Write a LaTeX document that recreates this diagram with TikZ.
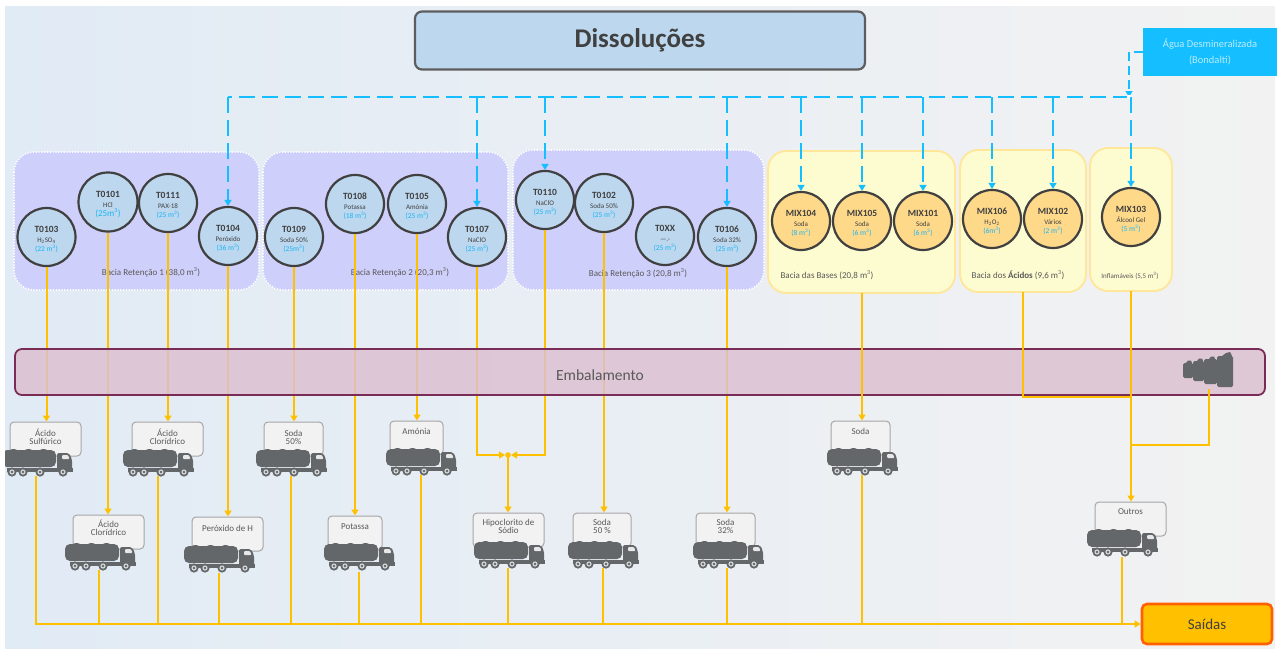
\documentclass[tikz,border=0pt]{standalone}
\usepackage{fontspec}
\setmainfont{Carlito}
\usetikzlibrary{arrows.meta,shadings}
\definecolor{bgL}{HTML}{E1EBF5}
\definecolor{bgR}{HTML}{F2F2F2}
\definecolor{tankblue}{HTML}{BDD7EE}
\definecolor{mixor}{HTML}{FFD98A}
\definecolor{ringc}{HTML}{404040}
\definecolor{capc}{HTML}{19B5F5}
\definecolor{lilac}{HTML}{CFCFFB}
\definecolor{creamf}{HTML}{FDFBD0}
\definecolor{creamb}{HTML}{FFE699}
\definecolor{orangel}{HTML}{FFC000}
\definecolor{bluel}{HTML}{15BEFF}
\definecolor{truckc}{HTML}{63676A}
\definecolor{bandf}{HTML}{DCBFD0}
\definecolor{bandb}{HTML}{7B2C56}
\definecolor{boxb}{HTML}{A6A6A6}
\definecolor{txt}{HTML}{595959}
\tikzset{
 x=1pt,y=-1pt,
 tank/.style={circle,draw=ringc,line width=2.2pt,minimum size=58pt,inner sep=0pt,fill=tankblue,align=center,font=\fontsize{7}{9.6}\selectfont,text=ringc},
 mixtank/.style={tank,fill=mixor},
 basinL/.style={draw=white,line width=1.6pt,dash pattern=on 1.2pt off 1.6pt,fill=lilac,rounded corners=20pt},
 basinC/.style={draw=creamb,line width=1.8pt,fill=creamf,rounded corners=18pt},
 basintxt/.style={font=\fontsize{9}{10}\selectfont,text=txt,inner sep=0pt},
 orangeln/.style={draw=orangel,line width=2pt},
 orangear/.style={orangeln,-{Triangle[length=6pt,width=7pt]}},
 blueln/.style={draw=bluel,line width=2.4pt,dash pattern=on 16pt off 7pt},
 bluear/.style={blueln,-{Triangle[length=6pt,width=7pt]}},
 trkbox/.style={draw=boxb,line width=1pt,fill=bgR,rounded corners=4pt,inner sep=0pt},
 trktxt/.style={font=\fontsize{9}{8}\selectfont,text=txt,align=center,inner sep=0pt},
 trk/.pic={
  \fill[truckc,rounded corners=5pt] (0,0) rectangle (54,17);
  \fill[truckc] (7,0.5) .. controls (10,-1.5) and (13,-1.5) .. (16,0.5) -- cycle;
  \fill[truckc] (22,0.5) .. controls (25,-1.5) and (28,-1.5) .. (31,0.5) -- cycle;
  \fill[truckc] (37,0.5) .. controls (40,-1.5) and (43,-1.5) .. (46,0.5) -- cycle;
  \fill[truckc,rounded corners=2pt] (55,3) -- (67,3) -- (70,9) -- (70,20) -- (55,20) -- cycle;
  \fill[white!85!truckc,rounded corners=1pt] (60,5) -- (66,5) -- (67.5,9) -- (60,9) -- cycle;
  \fill[truckc] (5,18) rectangle (71,21.5);
  \foreach \wx in {10,21,38,61}{
    \fill[truckc] (\wx,22) circle[radius=4.6];
    \fill[white!75!truckc] (\wx,22) circle[radius=2.6];
    \fill[truckc] (\wx,22) circle[radius=1.3];
  }
 },
}
% name, truck L, truck T, box xmin, box xmax, box ytop, text y, text
\newcommand{\trkunit}[8]{%
  \node[trkbox,minimum width={(#5-#4)*1pt},minimum height=34pt] (#1) at ({(#4+#5)/2},#6+17) {};
  \node[trktxt] (#1txt) at ({(#4+#5)/2},#7) {#8};
  \pic at (#2,#3) {trk};
}
\newcommand{\tanknd}[7]{\node[#1] (#2) at (#3,#4) {\rule{0pt}{11.5pt}{\bfseries\fontsize{9.5}{9.6}\selectfont #5}\\#6\\{\fontsize{7.5}{9.6}\selectfont\color{capc}#7}};}
\newcommand{\mcub}{m\textsuperscript{3}}
\begin{document}
\begin{tikzpicture}
\useasboundingbox (0,0) rectangle (1277,648);
\fill[white] (0,0) rectangle (1277,648);
\shade[left color=bgL,right color=bgR] (5,6) rectangle (1275,648);

% basins
\draw[basinL] (14,152) rectangle (259,290);
\draw[basinL] (263,152) rectangle (508,290);
\draw[basinL] (513,150) rectangle (764,290);
\draw[basinC] (768,151) rectangle (955,293);
\draw[basinC] (960,150) rectangle (1086,292);
\draw[basinC] (1090,148) rectangle (1172,291);
\node[basintxt] (b1t) at (151,272) {Bacia Retenção 1 (38,0 \mcub)};
\node[basintxt] (b2t) at (400,272) {Bacia Retenção 2 (20,3 \mcub)};
\node[basintxt] (b3t) at (638,273) {Bacia Retenção 3 (20,8 \mcub)};
\node[basintxt] (b4t) at (827,275) {Bacia das Bases (20,8 \mcub)};
\node[basintxt] (b5t) at (1018,275) {Bacia dos \textbf{Ácidos} (9,6 \mcub)};
\node[basintxt,font=\fontsize{7}{8}\selectfont] (b6t) at (1130,276) {Inflamáveis (5,5 \mcub)};

% tanks
\tanknd{tank}{t103}{46.5}{237}{T0103}{H\textsubscript{2}SO\textsubscript{4}}{(22 \mcub)}
\tanknd{tank,minimum size=59pt}{t101}{108}{202}{T0101}{HCl}{\fontsize{9}{9.6}\selectfont(25m\textsuperscript{3})}
\tanknd{tank}{t111}{168}{203}{T0111}{PAX-18}{(25 \mcub)}
\tanknd{tank}{t104}{228}{236}{T0104}{Peróxido}{(36 \mcub)}
\tanknd{tank}{t109}{294}{237}{T0109}{Soda 50\%}{(25\mcub)}
\tanknd{tank}{t108}{355}{204}{T0108}{Potassa}{(18 \mcub)}
\tanknd{tank}{t105}{417}{204}{T0105}{Amónia}{(25 \mcub)}
\tanknd{tank}{t107}{477}{237}{T0107}{NaClO}{(25 \mcub)}
\tanknd{tank}{t110}{545}{200}{T0110}{NaClO}{(25 \mcub)}
\tanknd{tank}{t102}{604}{203}{T0102}{Soda 50\%}{(25 \mcub)}
\tanknd{tank}{t0xx}{665}{236}{T0XX}{---.-}{(25 \mcub)}
\tanknd{tank}{t106}{727}{237}{T0106}{Soda 32\%}{(25 \mcub)}
\tanknd{mixtank}{m104}{801}{221}{MIX104}{Soda}{(8 \mcub)}
\tanknd{mixtank}{m105}{862}{221}{MIX105}{Soda}{(6 \mcub)}
\tanknd{mixtank}{m101}{923}{221}{MIX101}{Soda}{(6 \mcub)}
\tanknd{mixtank}{m106}{992}{219}{MIX106}{H\textsubscript{2}O\textsubscript{2}}{(6m\textsuperscript{3})}
\tanknd{mixtank}{m102}{1053}{219}{MIX102}{Vários}{(2 \mcub)}
\tanknd{mixtank}{m103}{1131}{217}{MIX103}{Álcool Gel}{(5 \mcub)}

% title and water
\node[draw=ringc!85!white,line width=2.2pt,fill=tankblue,rounded corners=7pt,minimum width=450pt,minimum height=58pt,inner sep=0pt,font=\fontsize{27}{30}\bfseries\selectfont,text=ringc] (title) at (640,40.5) {Dissoluções};
\node[fill=bluel,minimum width=134pt,minimum height=48pt,inner sep=0pt,align=center,font=\fontsize{10.5}{16}\selectfont,text=white!70!bluel] (agua) at (1210,52) {Água Desmineralizada\\(Bondalti)};

% blue network
\coordinate (bjoin) at (1129,97);
\coordinate (bleft) at (228,97);
\draw[blueln] (bjoin) -- (bleft);
\draw[bluear,line width=1.8pt,dash pattern=on 9pt off 5pt] (agua.west) -| (bjoin);
\fill[white] (bjoin) circle[radius=2.2];
\foreach \tgt in {t104,t107,t110,t106,m104,m105,m101,m106,m102,m103}{
  \draw[bluear] (\tgt.north |- bjoin) -- (\tgt.north);
}

% trucks
\trkunit{tb1}{2}{450}{10}{81}{422}{437}{Ácido\\Sulfúrico}
\trkunit{tb2}{123}{450}{132}{203}{422}{437}{Ácido\\Clorídrico}
\trkunit{tb3}{256}{450}{264}{323}{422}{437}{Soda\\50\%}
\trkunit{tb4}{386}{449}{390}{443}{421}{431}{Amónia}
\trkunit{tb5}{65}{544}{73}{144}{515}{528}{Ácido\\Clorídrico}
\trkunit{tb6}{184}{546}{192}{263}{517}{528}{Peróxido de H}
\trkunit{tb7}{324}{544}{328}{382}{516}{527}{Potassa}
\trkunit{tb8}{474}{542}{473}{544}{513}{526}{Hipoclorito de\\Sódio}
\trkunit{tb9}{568}{542}{573}{631}{513}{526}{Soda\\50 \%}
\trkunit{tb10}{693}{542}{696}{755}{513}{526}{Soda\\32\%}
\trkunit{tb11}{827}{449}{831}{890}{421}{431}{Soda}
\trkunit{tb12}{1087}{530}{1095}{1166}{502}{512}{Outros}
\fill[white] (0,440) rectangle (5,480);

% orange under the band
\draw[orangear] (t103.south) -- (t103.south |- tb1.north);
\draw[orangear] (t101.south) -- (t101.south |- tb5.north);
\draw[orangear] (t111.south) -- (t111.south |- tb2.north);
\draw[orangear] (t104.south) -- (t104.south |- tb6.north);
\draw[orangear] (t109.south) -- (t109.south |- tb3.north);
\draw[orangear] (t108.south) -- (t108.south |- tb7.north);
\draw[orangear] (t105.south) -- (t105.south |- tb4.north);
\draw[orangear] (t102.south) -- (t102.south |- tb9.north);
\draw[orangear] (t106.south) -- (t106.south |- tb10.north);
\coordinate (hipo) at (508,455);
\draw[orangear] (t107.south) |- ([xshift=-3pt]hipo);
\draw[orangear] (t110.south) |- ([xshift=3pt]hipo);
\fill[orangel] (hipo) circle[radius=2.8];
\draw[orangear] (hipo) -- (hipo |- tb8.north);

% band
\node[draw=bandb,line width=1.8pt,fill=bandf,fill opacity=0.82,rounded corners=7pt,minimum width=1250pt,minimum height=46pt,inner sep=0pt] (band) at (640,372) {};
\node[inner sep=0pt,font=\fontsize{15.5}{17}\selectfont,text=txt] (bandtxt) at (600,375) {Embalamento};

% drums
\fill[truckc,rounded corners=1.5pt] (1183,363) rectangle (1193,378);
\fill[truckc,rounded corners=1.5pt] (1193,361) rectangle (1204,381);
\fill[truckc,rounded corners=1.5pt] (1204,359) rectangle (1217,384);
\fill[truckc,rounded corners=1.5pt] (1217,356) rectangle (1233,387);
\fill[truckc] (1186,363) -- (1188,360.5) -- (1191,360.5) -- (1192,363) -- cycle;
\fill[truckc] (1197,361) -- (1199,358.5) -- (1202,358.5) -- (1203,361) -- cycle;
\fill[truckc] (1209,359) -- (1211,356.5) -- (1214,356.5) -- (1215,359) -- cycle;
\fill[truckc] (1222,356) -- (1226,353) -- (1230,352) -- (1232,356) -- cycle;
\coordinate (drum) at (1209,389);

% outlets of the right-hand basins
\coordinate (bases) at (862,293);
\coordinate (acidos) at (1023,292);
\coordinate (infl) at (1131,291);
\coordinate (acidj) at (1131,397);
\coordinate (drumj) at (1131,445);
\draw[orangear] (bases) -- (bases |- tb11.north);
\draw[orangeln] (acidos) |- (acidj);
\draw[orangear] (infl) -- (infl |- tb12.north);
\draw[orangeln] (drum) |- (drumj);

% Saídas and bus
\node[draw=orange!75!red,line width=2.6pt,fill=orangel,rounded corners=5pt,minimum width=130pt,minimum height=40pt,inner sep=0pt,font=\fontsize{15}{17}\selectfont,text=ringc] (saidas) at (1207,624) {Saídas};
\coordinate (busstart) at (36,476);
\draw[orangear,line width=2.2pt] (busstart) |- (saidas.west);
\foreach \rx/\ry in {99/570,158/476,219/573,291/476,359/572,421/475,508/568,603/568,727/568,862/475,1122/557}{
  \coordinate (riser) at (\rx,\ry);
  \draw[orangeln] (riser) -- (riser |- saidas.west);
}
\end{tikzpicture}
\end{document}
